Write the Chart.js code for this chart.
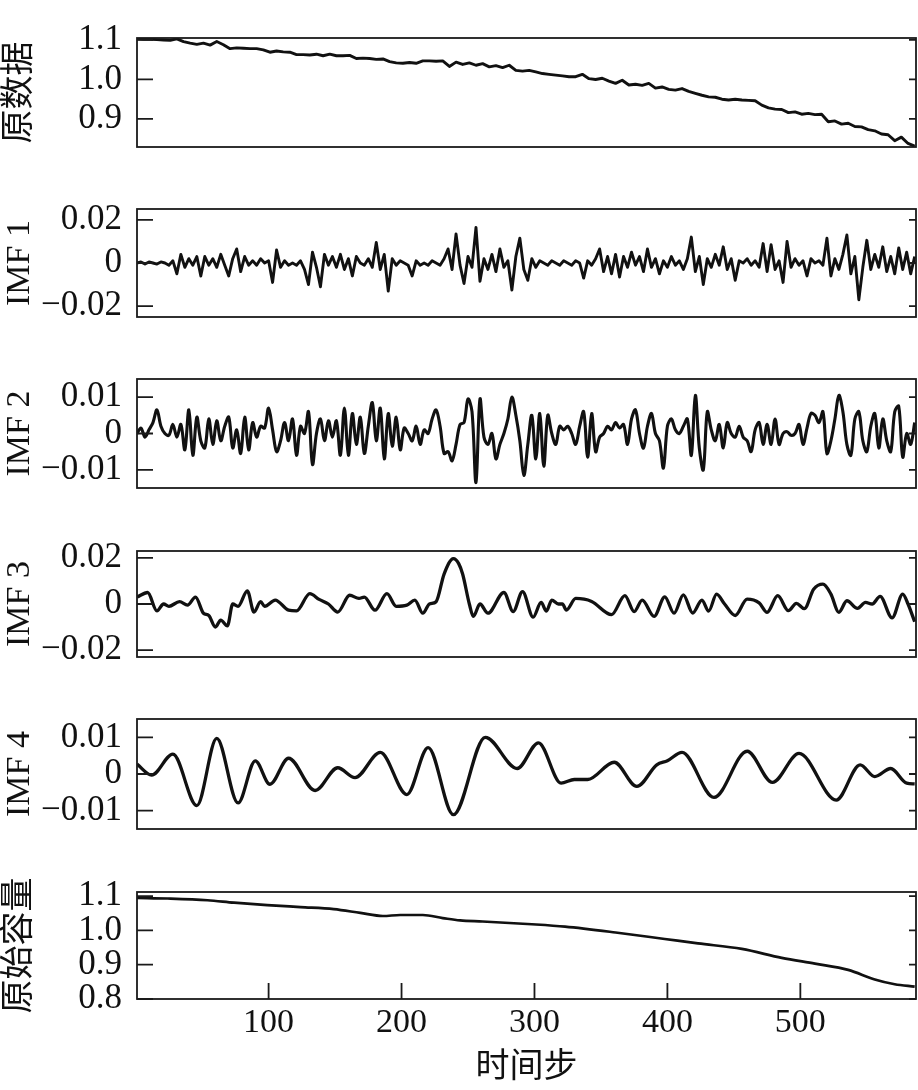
<!DOCTYPE html>
<html>
<head>
<meta charset="utf-8">
<script src="https://cdn.jsdelivr.net/npm/chart.js@4"></script>
<style>
  html, body { margin: 0; padding: 0; background: #fff; }
  #wrap { position: relative; width: 918px; height: 1090px; overflow: hidden; }
  #wrap canvas { position: absolute; left: 0; }
</style>
</head>
<body>
<div id="wrap"></div>
<script>
// ---- data ----
// time steps shared by the noisy series
var origStart = 1, origStep = 5;
var imfStart = 1, imfStep = 3;

var original = [
  1.103, 1.102, 1.102, 1.101, 1.100, 1.099, 1.103, 1.096, 1.092, 1.089,
  1.092, 1.087, 1.096, 1.088, 1.078, 1.080, 1.079, 1.078, 1.078, 1.075,
  1.069, 1.072, 1.070, 1.069, 1.063, 1.063, 1.062, 1.064, 1.060, 1.064,
  1.060, 1.060, 1.061, 1.053, 1.054, 1.053, 1.051, 1.052, 1.045, 1.042,
  1.041, 1.043, 1.041, 1.047, 1.047, 1.046, 1.047, 1.033, 1.044, 1.038,
  1.042, 1.036, 1.040, 1.032, 1.035, 1.030, 1.036, 1.023, 1.021, 1.023,
  1.019, 1.015, 1.013, 1.011, 1.009, 1.007, 1.007, 1.013, 1.002, 1.000,
  1.003, 0.996, 0.990, 0.998, 0.986, 0.988, 0.985, 0.990, 0.978, 0.981,
  0.975, 0.973, 0.977, 0.970, 0.965, 0.960, 0.956, 0.955, 0.950, 0.948,
  0.950, 0.948, 0.947, 0.946, 0.935, 0.928, 0.925, 0.924, 0.916, 0.918,
  0.912, 0.914, 0.911, 0.912, 0.893, 0.895, 0.887, 0.889, 0.881, 0.880,
  0.873, 0.870, 0.862, 0.860, 0.845, 0.854, 0.838, 0.831
];

var imf1 = [
  0, 0.0005, -0.0005, 0.0005, 0, -0.0005, 0.0005, 0, -0.001, 0.001,
  -0.005, 0.004, -0.002, 0.002, -0.001, 0.003, -0.006, 0.003, -0.001, 0.002,
  -0.002, 0.004, -0.001, -0.006, 0.002, 0.0065, -0.004, 0.003, -0.001, 0.001,
  -0.001, 0.002, 0, 0.001, -0.009, 0.006, -0.002, 0.001, -0.001, 0,
  -0.001, 0.001, -0.003, -0.010, 0.005, -0.002, -0.011, 0.004, -0.001, 0.003,
  -0.002, 0.004, -0.003, 0.002, -0.006, 0.003, 0, -0.001, 0.002, -0.002,
  0.0095, -0.003, 0.004, -0.013, 0.002, -0.001, 0.001, 0, -0.001, -0.006,
  0.001, -0.001, 0, -0.001, 0.001, 0, -0.001, 0.002, 0.0065, -0.003,
  0.0135, -0.001, -0.0095, 0.003, -0.002, 0.0165, -0.0085, 0.002, -0.003, 0.004,
  -0.004, 0.0065, -0.002, 0.001, -0.0125, 0.003, 0.0115, -0.003, -0.008, 0.002,
  -0.002, 0.001, 0, -0.001, 0.001, 0, -0.001, 0.001, 0, -0.001,
  0.001, 0, -0.007, 0.001, -0.001, 0.002, 0.0065, -0.004, 0.003, -0.005,
  0.004, -0.0065, 0.003, -0.002, 0.005, -0.001, 0.003, -0.004, 0.0065, -0.002,
  0.002, -0.005, 0.001, -0.002, 0.003, -0.001, 0.001, -0.003, 0.002, 0.012,
  -0.004, 0.003, -0.010, 0.002, -0.002, 0.004, -0.001, 0.0075, -0.003, 0.002,
  -0.008, 0.001, 0, 0.002, -0.001, 0.001, -0.002, 0.009, -0.004, 0.0085,
  -0.003, 0.001, -0.009, 0.010, -0.002, 0.002, -0.001, 0.001, -0.006, 0.002,
  0, 0.001, -0.001, 0.0115, -0.006, 0.002, -0.003, 0.004, 0.013, -0.005,
  0.003, -0.017, -0.002, 0.0105, -0.003, 0.004, -0.002, 0.0075, -0.004, 0.003,
  -0.005, 0.007, -0.003, 0.005, -0.005, 0.003
];

var imf2 = [
  0, 0.0015, -0.001, 0.001, 0.003, 0.0065, 0.002, 0, -0.0005, 0.0025,
  -0.001, 0.0025, -0.0045, 0.0065, -0.006, 0.0045, -0.002, -0.004, 0.004, -0.003,
  0.0035, -0.002, 0.002, 0.0045, -0.004, 0.001, -0.0055, 0.0045, -0.0045, 0.003,
  -0.001, 0.002, 0.0015, 0.007, 0.001, -0.005, -0.002, 0.003, -0.002, 0.004,
  -0.006, 0.002, 0, 0.006, -0.0085, 0, 0.004, -0.002, 0.0035, -0.001,
  0.0035, -0.006, 0.007, -0.006, 0.0055, -0.003, 0.0045, -0.0055, 0.002, 0.0085,
  -0.002, 0.007, -0.007, 0.0055, -0.0035, 0.0045, -0.0045, 0.0015, 0, -0.002,
  0.002, -0.003, 0.001, 0, 0.004, 0.0065, 0.002, -0.0055, -0.005, -0.0075,
  -0.003, 0.0025, 0.003, 0.0095, 0.006, -0.0135, 0.0095, -0.001, -0.003, 0,
  -0.007, -0.003, 0, 0.004, 0.010, 0.005, -0.002, -0.0115, -0.003, 0.005,
  -0.007, 0.0055, -0.009, 0.005, 0, -0.003, 0.002, 0.001, 0.002, 0,
  -0.003, 0.002, 0.006, -0.0065, 0.0055, -0.005, -0.001, 0, 0.002, 0.001,
  0.003, 0.0015, 0.0025, -0.003, 0.004, 0.0065, 0, -0.004, 0.002, 0.0055,
  0, -0.002, -0.0095, 0.002, 0.004, 0.001, 0, 0.002, 0.004, -0.006,
  0.0105, -0.004, -0.010, 0.006, 0.001, -0.002, 0.0025, -0.004, 0.003, 0,
  -0.001, 0.002, -0.001, -0.002, -0.005, 0.001, 0.003, -0.003, 0.0025, -0.003,
  0.004, -0.003, 0, 0.0005, -0.0005, 0, 0.0025, -0.003, 0.0015, 0.0055,
  0.005, 0.003, 0.006, -0.0055, -0.002, 0.004, 0.0105, 0.006, -0.003, -0.006,
  0.004, 0.006, -0.002, -0.005, 0.002, 0.0055, -0.004, 0.004, -0.002, -0.005,
  0.006, 0.0075, -0.0065, 0, -0.003, 0.003
];

var imf3Steps = [1, 9, 16, 21, 25, 33, 39, 45, 51, 55, 60, 64, 69, 73, 77, 84, 89, 94, 97, 105,
  115, 121, 131, 138, 145, 152, 161, 168, 172, 180, 189, 196, 204, 210, 216, 221, 226, 232, 239, 243,
  246, 251, 254, 259, 265, 277, 284, 291, 299, 305, 309, 313, 318, 321, 324, 331, 343, 358, 368, 375,
  381, 390, 398, 405, 412, 419, 426, 431, 437, 443, 451, 460, 469, 475, 483, 491, 497, 503, 510, 517,
  523, 529, 535, 543, 549, 554, 560, 569, 577, 581, 586];
var imf3 = [0.003, 0.005, -0.003, 0, -0.001, 0.001, -0.0005, 0.003, -0.004, -0.005,
  -0.010, -0.007, -0.0095, 0, -0.001, 0.0057, -0.0035, 0.001, -0.001, 0.0017,
  -0.0027, -0.003, 0.0045, 0.002, 0, -0.0035, 0.0038, 0.0024, 0.003, -0.0027,
  0.0045, -0.001, -0.0005, 0.0017, -0.004, 0, 0.001, 0.013, 0.0197, 0.0175,
  0.0129, 0, -0.0054, 0, -0.004, 0.005, -0.0033, 0.0054, -0.0057, 0.0007,
  -0.0031, 0.0017, 0, 0, -0.0026, 0.0024, 0.0011, -0.0046, 0.0036, -0.0033,
  0.0017, -0.0054, 0.0031, -0.004, 0.004, -0.0039, 0.0017, -0.0031, 0.0043, 0,
  -0.005, 0.0021, 0.0005, -0.0036, 0.0036, -0.0029, 0.0003, -0.002, 0.0064, 0.0086,
  0.0043, -0.0036, 0.0014, -0.0019, 0.0007, 0, 0.0033, -0.006, 0.0043, 0,
  -0.0077];

var imf4Steps = [1, 12, 28, 46, 61, 77, 90, 101, 115, 135, 152, 165, 184, 204, 220, 239, 263, 287, 303,
  320, 330, 340, 360, 377, 392, 400, 411, 435, 460, 479, 499, 527, 545, 556, 568, 580, 586];
var imf4 = [0.0027, -0.0003, 0.0054, -0.0086, 0.0097, -0.0079, 0.0036, -0.0028, 0.0043, -0.0045,
  0.0017, -0.001, 0.0059, -0.0056, 0.0072, -0.0111, 0.010, 0.0015, 0.0085,
  -0.0025, -0.0015, -0.0015, 0.0032, -0.0034, 0.0025, 0.0036, 0.0059, -0.0064, 0.0062, -0.0023,
  0.0056, -0.0071, 0.0025, -0.0007, 0.0015, -0.0025, -0.0027];

var residSteps = [1, 24, 54, 74, 99, 124, 149, 169, 186, 199, 216, 231, 244, 261, 298, 323, 361,
  398, 423, 456, 486, 511, 536, 556, 571, 586];
var resid = [1.095, 1.093, 1.088, 1.081, 1.074, 1.068, 1.062, 1.051, 1.042, 1.045, 1.045, 1.036,
  1.029, 1.026, 1.018, 1.011, 0.994, 0.975, 0.962, 0.946, 0.920, 0.903, 0.885, 0.857, 0.843, 0.836];

var titles = ['原数据', 'IMF 1', 'IMF 2', 'IMF 3', 'IMF 4', '原始容量'];
var yTicks = [
  [0.9, 1.0, 1.1],
  [-0.02, 0, 0.02],
  [-0.01, 0, 0.01],
  [-0.02, 0, 0.02],
  [-0.01, 0, 0.01],
  [0.8, 0.9, 1.0, 1.1]
];
var xTicks = [100, 200, 300, 400, 500];
var xTitle = '时间步';

// ---- helpers ----
function gridSteps(start, step, n) {
  var out = [];
  for (var i = 0; i < n; i++) out.push(start + i * step);
  return out;
}
function toPoints(steps, vals) {
  return vals.map(function(v, i) { return { x: steps[i], y: v }; });
}
function fmtTick(v, oneDecimal) {
  if (oneDecimal) return v.toFixed(1);
  if (v === 0) return '0';
  return v.toFixed(2).replace('-', '\u2212');
}

var serif = "'Liberation Serif', 'Times New Roman', serif";
var titleFamily = "'Liberation Serif', 'Noto Sans CJK SC', serif";

// frame + inward tick marks
var frameTicks = {
  id: 'frameTicks',
  afterDraw: function(chart) {
    var ctx = chart.ctx, a = chart.chartArea;
    var ys = chart.scales.y, xs = chart.scales.x;
    ctx.save();
    ctx.strokeStyle = '#1a1a1a';
    ctx.lineWidth = 1.8;
    ctx.strokeRect(a.left, a.top, a.right - a.left, a.bottom - a.top);
    ctx.beginPath();
    ys.ticks.forEach(function(t) {
      var py = ys.getPixelForValue(t.value);
      ctx.moveTo(a.left, py); ctx.lineTo(a.left + 16, py);
      ctx.moveTo(a.right - 7, py); ctx.lineTo(a.right, py);
    });
    if (xs.options.display) {
      xs.ticks.forEach(function(t) {
        var px = xs.getPixelForValue(t.value);
        ctx.moveTo(px, a.bottom); ctx.lineTo(px, a.bottom - 16);
      });
    }
    ctx.stroke();
    ctx.restore();
  }
};

var series = [
  { pts: toPoints(gridSteps(origStart, origStep, original.length), original), tension: 0, width: 2.9 },
  { pts: toPoints(gridSteps(imfStart, imfStep, imf1.length), imf1), tension: 0, width: 2.9 },
  { pts: toPoints(gridSteps(imfStart, imfStep, imf2.length), imf2), tension: 0.35, width: 3.1 },
  { pts: toPoints(imf3Steps, imf3), mono: true, width: 3.3 },
  { pts: toPoints(imf4Steps, imf4), mono: true, width: 3.3 },
  { pts: toPoints(residSteps, resid), mono: true, width: 2.7 }
];

// plot-area boxes in page pixels and y ranges
var layout = [
  { top: 38, bottom: 147, min: 0.829, max: 1.105, oneDec: true },
  { top: 209, bottom: 317, min: -0.025, max: 0.025 },
  { top: 379, bottom: 488, min: -0.015, max: 0.015 },
  { top: 551, bottom: 657, min: -0.023, max: 0.023 },
  { top: 719, bottom: 829, min: -0.015, max: 0.015 },
  { top: 892, bottom: 999, min: 0.8, max: 1.112, oneDec: true, last: true }
];

// must exceed half a tick label plus tick padding, or Chart.js shrinks the plot
var PAD = 38;
var wrap = document.getElementById('wrap');

layout.forEach(function(L, k) {
  var canvasTop = L.top - PAD;
  var h = L.last ? (1090 - canvasTop) : (L.bottom - L.top + 2 * PAD);
  var cv = document.createElement('canvas');
  cv.width = 918; cv.height = h;
  cv.style.top = canvasTop + 'px';
  cv.style.width = '918px'; cv.style.height = h + 'px';
  wrap.appendChild(cv);

  var s = series[k];
  var tickVals = yTicks[k];

  new Chart(cv, {
    type: 'line',
    data: {
      datasets: [{
        data: s.pts,
        borderColor: '#111',
        borderWidth: s.width,
        pointRadius: 0,
        fill: false,
        tension: s.tension || 0,
        cubicInterpolationMode: s.mono ? 'monotone' : 'default',
        borderJoinStyle: 'round'
      }]
    },
    options: {
      responsive: false,
      animation: false,
      events: [],
      layout: { padding: { top: PAD, bottom: L.last ? 0 : PAD, left: 0, right: 2 } },
      plugins: { legend: { display: false }, tooltip: { enabled: false } },
      scales: {
        x: {
          type: 'linear',
          min: 1,
          max: 587,
          display: !!L.last,
          grid: { display: false, drawTicks: false },
          border: { display: false },
          afterBuildTicks: function(scale) {
            scale.ticks = xTicks.map(function(v) { return { value: v }; });
          },
          afterFit: function(scale) {
            if (L.last) scale.height = 1090 - L.bottom;
          },
          ticks: {
            color: '#111',
            padding: 4,
            maxRotation: 0,
            autoSkip: false,
            font: { family: serif, size: 34 },
            callback: function(v) { return String(v); }
          },
          title: {
            display: true,
            text: xTitle,
            color: '#111',
            font: { family: titleFamily, size: 34, lineHeight: 1.2 },
            padding: { top: 0, bottom: 2 }
          }
        },
        y: {
          type: 'linear',
          min: L.min,
          max: L.max,
          grid: { display: false, drawTicks: false },
          border: { display: false },
          afterBuildTicks: function(scale) {
            scale.ticks = tickVals.map(function(v) { return { value: v }; });
          },
          afterFit: function(scale) { scale.width = 137; },
          ticks: {
            color: '#111',
            padding: 15,
            autoSkip: false,
            font: { family: serif, size: 35 },
            callback: function(v) { return fmtTick(v, L.oneDec); }
          },
          title: {
            display: true,
            text: titles[k],
            color: '#111',
            font: { family: titleFamily, size: 34, lineHeight: 1.2 },
            padding: { top: 0, bottom: 0 }
          }
        }
      }
    },
    plugins: [frameTicks]
  });
});
</script>
</body>
</html>
